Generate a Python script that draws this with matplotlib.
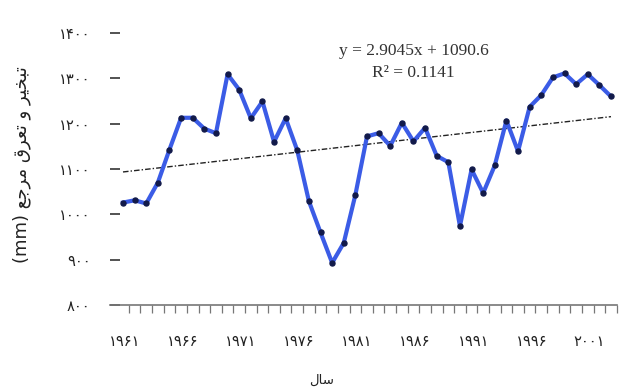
import numpy as np
import matplotlib
matplotlib.use("Agg")
import matplotlib.pyplot as plt

# Annual reference evapotranspiration (mm), 1961-2003
years = list(range(1961, 2004))
et0 = [1026, 1031, 1024, 1070, 1143, 1213, 1213, 1189, 1179, 1309,
       1275, 1212, 1249, 1160, 1212, 1141, 1029, 960, 893, 937,
       1043, 1172, 1179, 1151, 1202, 1161, 1191, 1129, 1115, 974,
       1099, 1047, 1108, 1207, 1139, 1237, 1263, 1302, 1311, 1287,
       1309, 1285, 1260]

# Linear trend fitted on the year index (1..n)
trend_slope = 2.9045
trend_intercept = 1090.6
trend_r2 = 0.1141

y_ticks = [800, 900, 1000, 1100, 1200, 1300, 1400]
label_years = [1961, 1966, 1971, 1976, 1981, 1986, 1991, 1996, 2001]

x_title = "سال"
y_title = "تبخیر و تعرق مرجع"

PERSIAN_DIGITS = str.maketrans("0123456789", "۰۱۲۳۴۵۶۷۸۹")


def fa_num(n):
    return str(n).translate(PERSIAN_DIGITS)


# Contextual forms: isolated, final, initial, medial
FORMS = {
    "ا": ("\ufe8d", "\ufe8e", None, None),
    "ب": ("\ufe8f", "\ufe90", "\ufe91", "\ufe92"),
    "ت": ("\ufe95", "\ufe96", "\ufe97", "\ufe98"),
    "ج": ("\ufe9d", "\ufe9e", "\ufe9f", "\ufea0"),
    "خ": ("\ufea5", "\ufea6", "\ufea7", "\ufea8"),
    "ر": ("\ufead", "\ufeae", None, None),
    "س": ("\ufeb1", "\ufeb2", "\ufeb3", "\ufeb4"),
    "ع": ("\ufec9", "\ufeca", "\ufecb", "\ufecc"),
    "ق": ("\ufed5", "\ufed6", "\ufed7", "\ufed8"),
    "ل": ("\ufedd", "\ufede", "\ufedf", "\ufee0"),
    "م": ("\ufee1", "\ufee2", "\ufee3", "\ufee4"),
    "و": ("\ufeed", "\ufeee", None, None),
    "ی": ("\ufbfc", "\ufbfd", "\ufbfe", "\ufbff"),
}


def shape_rtl(text):
    """Join Arabic-script letters and return them in visual (left-to-right) order."""
    out = []
    for i, ch in enumerate(text):
        if ch not in FORMS:
            out.append(ch)
            continue
        prev = text[i - 1] if i > 0 else ""
        nxt = text[i + 1] if i + 1 < len(text) else ""
        join_prev = prev in FORMS and FORMS[prev][2] is not None
        join_next = FORMS[ch][2] is not None and nxt in FORMS
        iso, fin, ini, med = FORMS[ch]
        if join_prev and join_next:
            out.append(med)
        elif join_prev:
            out.append(fin)
        elif join_next:
            out.append(ini)
        else:
            out.append(iso)
    return "".join(reversed(out))


plt.rcParams["font.family"] = ["DejaVu Sans"]

fig = plt.figure(figsize=(6.2, 3.92), dpi=100)
ax = fig.add_axes([0.1774, 0.2219, 0.8178, 0.6939])

idx = np.arange(1, len(years) + 1)
ax.plot(years, et0, color="#3b5ce6", lw=3.0, solid_joinstyle="round",
        marker="o", ms=3.6, mfc="#121a4a", mec="#121a4a", zorder=3)

trend = trend_intercept + trend_slope * idx
ax.plot(years, trend, color="#222222", lw=1.0, ls=(0, (4, 1.5, 1, 1.5)), zorder=2)

ax.set_ylim(800, 1400)
ax.set_xlim(1959.88, 2003.52)

# y axis: no spine, short inward ticks
ax.spines["left"].set_visible(False)
ax.spines["right"].set_visible(False)
ax.spines["top"].set_visible(False)
ax.spines["bottom"].set_color("#777777")
ax.spines["bottom"].set_linewidth(1.2)

ax.set_yticks(y_ticks)
ax.set_yticklabels([fa_num(v) for v in y_ticks], fontsize=10.5, color="#222222")
ax.tick_params(axis="y", direction="in", length=7, width=1.3, color="#444444", pad=14)

# x axis: ticks between years, labels every fifth year
ax.set_xticks([y + 0.5 for y in years])
ax.set_xticklabels([])
ax.tick_params(axis="x", which="major", direction="out", length=6, width=0.9,
               color="#777777")
for yr in label_years:
    ax.text(yr + 0.15, -0.105, fa_num(yr), transform=ax.get_xaxis_transform(),
            ha="center", va="top", fontsize=10.5, color="#222222")

ax.text(1986, 1360, f"y = {trend_slope}x + {trend_intercept}",
        ha="center", va="center", fontsize=12.5, family="Liberation Serif",
        color="#333333")
ax.text(1986, 1311, f"R² = {trend_r2}",
        ha="center", va="center", fontsize=12.5, family="Liberation Serif",
        color="#333333")

fig.text(322 / 620, 1 - 380 / 392, shape_rtl(x_title), ha="center", va="center",
         fontsize=9.5, color="#222222")
fig.text(22 / 620, 1 - 165 / 392, "(mm) " + shape_rtl(y_title), ha="center",
         va="center", rotation=90, fontsize=13, color="#222222")

fig.savefig("out.png", dpi=100, facecolor="white")
